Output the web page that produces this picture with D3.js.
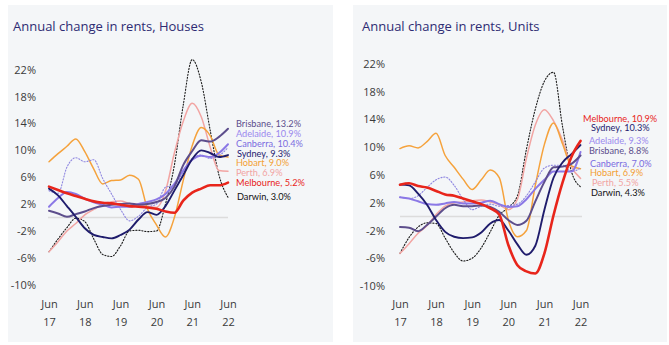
<!DOCTYPE html>
<html><head><meta charset="utf-8">
<script src="https://cdn.jsdelivr.net/npm/d3@7"></script>
<style>
body{margin:0;background:#fff;}
svg{display:block;}
</style></head><body>
<svg id="c" width="669" height="345"></svg>
<script>
// ---------- DATA ----------
const cities = ["Darwin","Perth","Hobart","Canberra","Adelaide","Brisbane","Sydney","Melbourne"];
const yTicks = [22,18,14,10,6,2,-2,-6,-10];
const xTickMonth = "Jun";
const xTickYears = ["17","18","19","20","21","22"];
// quarterly observations, Jun 2017 .. Jun 2022 (Jun, Sep, Dec, Mar)
const dates = d3.range(21).map(i => new Date(2017, 5 + 3 * i, 1));

const housesSydney    = [4.3, 3.3, 1.7, 0.1, -1.6, -2.6, -2.9, -3.1, -2.6, -1.8, -0.3, 0.8, 0.4, 1.7, 4.0, 6.3, 8.7, 10.0, 9.6, 9.0, 9.3];
const housesMelbourne = [4.6, 4.1, 3.6, 3.2, 2.8, 2.4, 2.2, 2.1, 1.9, 1.7, 1.6, 1.5, 1.3, 0.9, 0.7, 2.5, 3.7, 4.3, 4.8, 4.8, 5.2];
const housesBrisbane  = [1.0, 0.6, 0.1, 0.5, 0.9, 1.4, 1.7, 1.9, 2.0, 2.1, 1.9, 2.0, 2.3, 2.9, 4.6, 7.8, 9.9, 11.5, 11.3, 12.0, 13.2];
const housesAdelaide  = [1.6, 2.9, 3.8, 3.5, 2.8, 2.25, 1.9, 1.5, 1.6, 1.6, 2.0, 2.3, 2.7, 3.5, 5.0, 7.0, 8.6, 9.2, 9.0, 9.6, 10.9];
const housesPerth     = [-5.1, -3.6, -2.0, -0.9, 0.4, 1.2, 2.0, 2.35, 2.45, 2.1, 1.9, 1.7, 1.5, 3.9, 9.6, 14.3, 17.0, 15.0, 10.5, 7.0, 6.9];
const housesHobart    = [8.3, 9.5, 10.6, 11.7, 9.8, 7.2, 5.0, 5.5, 5.6, 6.3, 5.7, 1.3, -1.1, -2.9, 0.0, 5.5, 10.7, 13.4, 12.2, 9.3, 9.0];
const housesDarwin    = [-5.1, -3.2, -1.5, -0.1, -0.6, -3.2, -5.5, -5.8, -4.2, -2.0, -1.9, -2.1, -2.0, 2.0, 7.8, 16.7, 23.5, 20.2, 13.0, 6.3, 3.0];
const housesCanberra  = [4.0, 3.6, 7.5, 8.9, 8.3, 8.6, 5.8, 3.5, 1.2, -0.5, 0.2, 1.5, 2.0, 4.5, 4.8, 6.8, 8.8, 9.3, 8.8, 9.2, 10.4];

const unitsSydney     = [4.6, 4.5, 3.3, 1.7, -0.5, -2.2, -2.9, -3.1, -3.0, -2.3, -1.0, -0.5, -2.0, -4.0, -5.5, -4.2, 1.0, 5.6, 7.8, 9.0, 10.3];
const unitsMelbourne  = [4.6, 4.8, 4.4, 4.2, 3.7, 3.2, 3.0, 2.6, 2.2, 1.8, 1.2, 0.3, -4.1, -7.0, -7.9, -8.2, -5.3, 0.2, 4.9, 8.6, 10.9];
const unitsBrisbane   = [-1.5, -1.6, -2.1, -1.2, 0.0, 1.2, 1.7, 1.5, 1.5, 1.6, 1.4, 0.7, -0.5, -1.2, -0.6, 2.2, 5.0, 7.1, 7.2, 7.6, 8.8];
const unitsAdelaide   = [2.8, 2.6, 2.2, 1.8, 1.7, 1.9, 2.1, 1.9, 1.9, 2.0, 2.3, 1.8, 1.4, 1.5, 2.5, 4.0, 5.3, 6.5, 6.5, 6.5, 9.3];
const unitsPerth      = [-5.3, -3.9, -2.4, -1.3, 0.3, 1.5, 2.0, 2.1, 2.3, 2.4, 2.1, 1.7, 1.0, 2.5, 8.4, 13.2, 15.4, 13.8, 11.0, 7.2, 5.5];
const unitsHobart     = [9.8, 10.2, 9.9, 10.8, 12.0, 8.8, 7.1, 5.4, 3.9, 5.3, 6.7, 5.6, -0.5, -2.9, -2.0, 4.5, 10.4, 13.5, 10.5, 7.3, 6.9];
const unitsDarwin     = [-5.3, -3.0, -1.5, -0.9, -1.0, -3.1, -5.2, -6.4, -6.0, -4.5, -2.2, 0.2, 1.3, 3.0, 9.7, 15.5, 19.5, 20.8, 13.0, 6.5, 4.3];
const unitsCanberra   = [2.8, 2.6, 3.0, 4.2, 5.3, 5.7, 4.5, 2.5, 1.0, 1.5, 1.8, 1.5, 1.6, 1.8, 3.0, 5.0, 7.0, 7.4, 7.4, 6.5, 7.0];

// ---------- STYLE / LAYOUT ----------
const style = {
  Sydney:    {c:"#1f1c6c", lc:"#24216f", w:1.9},
  Melbourne: {c:"#e8251b", lc:"#e8251b", w:2.6},
  Brisbane:  {c:"#5d4e8c", lc:"#5d4e8c", w:2.0},
  Adelaide:  {c:"#8b78e6", lc:"#9a88ee", w:2.0},
  Perth:     {c:"#f2a5a3", lc:"#f2a5a3", w:1.5},
  Hobart:    {c:"#f5a23c", lc:"#f3a034", w:1.5},
  Darwin:    {c:"#1a1a1a", lc:"#111111", w:1.1, dash:"1.2,1.8"},
  Canberra:  {c:"#8e86e0", lc:"#7b6ce0", w:1.1, dash:"1.2,1.8"}
};

const panels = [
  { title:"Annual change in rents, Houses",
    series:{Sydney:housesSydney, Melbourne:housesMelbourne, Brisbane:housesBrisbane, Adelaide:housesAdelaide,
            Perth:housesPerth, Hobart:housesHobart, Darwin:housesDarwin, Canberra:housesCanberra},
    bg:[8,5,325,337], titleX:13, x:[49,228], y:[284.7,69.7], tickRight:36, zeroX:[48,228],
    labels:{Brisbane:[236,123.5],Adelaide:[236,133.5],Canberra:[236,144],Sydney:[237,153.5],
            Hobart:[236,163],Perth:[236,173],Melbourne:[236,183],Darwin:[237,197]},
    order:["Brisbane","Adelaide","Canberra","Sydney","Hobart","Perth","Melbourne","Darwin"] },
  { title:"Annual change in rents, Units",
    series:{Sydney:unitsSydney, Melbourne:unitsMelbourne, Brisbane:unitsBrisbane, Adelaide:unitsAdelaide,
            Perth:unitsPerth, Hobart:unitsHobart, Darwin:unitsDarwin, Canberra:unitsCanberra},
    bg:[353,5,314,337], titleX:362, x:[400,580.5], y:[286,63.9], tickRight:385, zeroX:[400,582],
    labels:{Melbourne:[583,118.5],Sydney:[591,128],Adelaide:[589,141],Brisbane:[589,151],
            Canberra:[590,163.5],Hobart:[590,173],Perth:[592,183],Darwin:[591,192.5]},
    order:["Melbourne","Sydney","Adelaide","Brisbane","Canberra","Hobart","Perth","Darwin"] }
];

const svg = d3.select("#c");

panels.forEach(p => {
  const g = svg.append("g");
  g.append("rect").attr("x",p.bg[0]).attr("y",p.bg[1]).attr("width",p.bg[2]).attr("height",p.bg[3])
    .attr("fill","#f4f6f8");

  g.append("text").attr("x",p.titleX).attr("y",31)
    .attr("font-family","'Open Sans', sans-serif").attr("font-size",13)
    .attr("fill","#2e2b73").text(p.title);

  const x = d3.scaleTime().domain([dates[0], dates[dates.length-1]]).range(p.x);
  const y = d3.scaleLinear().domain([-10,22]).range(p.y);

  // y tick labels
  const ya = d3.axisLeft(y).tickValues(yTicks).tickSize(0).tickPadding(0).tickFormat(d => d + "%");
  const yg = g.append("g").attr("transform",`translate(${p.tickRight},0)`).call(ya);
  yg.select(".domain").remove();
  yg.selectAll("text").attr("font-family","'Open Sans', sans-serif").attr("font-size",11)
    .attr("fill","#3a3a3a");

  // x tick labels (two lines)
  const xTickDates = dates.filter((d,i) => i % 4 === 0);
  const xa = d3.axisBottom(x).tickValues(xTickDates).tickSize(0).tickFormat(() => "");
  const xg = g.append("g").call(xa);
  xg.select(".domain").remove();
  xg.selectAll(".tick text").each(function(d,i){
    const t = d3.select(this).attr("y",0).attr("dy",null)
      .attr("font-family","'Open Sans', sans-serif").attr("font-size",11).attr("fill","#3a3a3a")
      .attr("text-anchor","middle");
    t.append("tspan").attr("x",0).attr("y",308).text(xTickMonth);
    t.append("tspan").attr("x",0).attr("y",326).text(xTickYears[i]);
  });

  // zero line
  g.append("line").attr("x1",p.zeroX[0]).attr("x2",p.zeroX[1]).attr("y1",y(0)).attr("y2",y(0))
    .attr("stroke","#dcdcdc").attr("stroke-width",1.5);

  const line = d3.line().x((d,i) => x(dates[i])).y(d => y(d)).curve(d3.curveMonotoneX);

  cities.forEach(c => {
    const s = style[c];
    g.append("path").datum(p.series[c]).attr("d",line)
      .attr("fill","none").attr("stroke",s.c).attr("stroke-width",s.w)
      .attr("stroke-linejoin","round").attr("stroke-linecap","round")
      .attr("stroke-dasharray",s.dash || null);
  });

  p.order.forEach(c => {
    const v = p.series[c];
    const pos = p.labels[c];
    g.append("text").attr("x",pos[0]).attr("y",pos[1]).attr("dy","0.35em")
      .attr("font-family","Lato, sans-serif").attr("font-size",9.2)
      .attr("fill",style[c].lc)
      .text(`${c}, ${v[v.length-1].toFixed(1)}%`);
  });
});
</script>
</body></html>
